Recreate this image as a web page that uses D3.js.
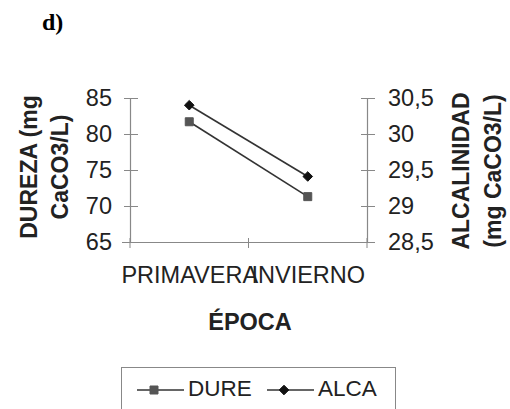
<!DOCTYPE html>
<html>
<head>
<meta charset="utf-8">
<script src="https://cdn.jsdelivr.net/npm/d3@7"></script>
<style>
  body { margin: 0; background: #fff; }
  svg { display: block; }
</style>
</head>
<body>
<div id="chart"></div>
<script>
// data
var epocas = ['PRIMAVERA', 'INVIERNO'];
var dureza = [81.7, 71.3];        // mg CaCO3/L, left axis
var alcalinidad = [30.40, 29.41]; // mg CaCO3/L, right axis
var durezaTicks = [65, 70, 75, 80, 85];
var alcaTicks = [28.5, 29, 29.5, 30, 30.5];

var width = 510, height = 409,
    plot = {left: 130, right: 367, top: 98, bottom: 242},
    font = 'Arial, "Liberation Sans", sans-serif';

var svg = d3.select('#chart').append('svg')
  .attr('width', width)
  .attr('height', height);

var x = d3.scalePoint()
  .domain(epocas)
  .range([plot.left, plot.right])
  .padding(0.5);
var yL = d3.scaleLinear().domain([65, 85]).range([plot.bottom, plot.top]);
var yR = d3.scaleLinear().domain([28.5, 30.5]).range([plot.bottom, plot.top]);

var comma = d => String(d).replace('.', ',');

// panel label
svg.append('text')
  .attr('x', 42).attr('y', 30)
  .attr('font-family', '"Liberation Serif", "Times New Roman", serif')
  .attr('font-weight', 'bold')
  .attr('font-size', '24px')
  .text('d)');

// left axis
var axL = svg.append('g')
  .attr('transform', `translate(${plot.left},0)`)
  .call(d3.axisLeft(yL).tickValues(durezaTicks).tickSize(6).tickSizeOuter(0).tickPadding(12));
// right axis
var axR = svg.append('g')
  .attr('transform', `translate(${plot.right},0)`)
  .call(d3.axisRight(yR).tickValues(alcaTicks).tickSize(8).tickSizeOuter(0).tickPadding(13).tickFormat(comma));
// bottom axis: ticks at category boundaries
var axB = svg.append('g')
  .attr('transform', `translate(0,${plot.bottom})`)
  .call(d3.axisBottom(x).tickSize(0).tickPadding(24));
svg.selectAll('.axis-gap').data([plot.left, (plot.left + plot.right) / 2, plot.right])
  .enter().append('line')
  .attr('x1', d => d).attr('x2', d => d)
  .attr('y1', plot.bottom - 4).attr('y2', plot.bottom + 6)
  .attr('stroke', '#888');

[axL, axR, axB].forEach(function (g) {
  g.select('.domain').attr('stroke', '#888').attr('stroke-width', 1.2);
  g.selectAll('.tick line').attr('stroke', '#888');
  g.selectAll('text')
    .attr('font-family', font)
    .attr('font-size', '23.5px')
    .attr('fill', '#222');
});
axL.selectAll('.tick line').attr('x2', -6).attr('x1', 8);
axR.selectAll('.tick line').attr('x1', -6).attr('x2', 8);
axB.select('.domain').attr('d', `M${plot.left - 8},0.5H${plot.right}`);

// axis titles
function axisTitle(lines, cx, cy, gap) {
  var t = svg.append('text')
    .attr('transform', `translate(${cx},${cy}) rotate(-90)`)
    .attr('text-anchor', 'middle')
    .attr('font-family', font)
    .attr('font-weight', 'bold')
    .attr('font-size', '23px')
    .attr('fill', '#222');
  lines.forEach(function (l, i) {
    t.append('tspan').attr('x', 0).attr('dy', i ? gap : 0).text(l);
  });
}
axisTitle(['DUREZA (mg', 'CaCO3/L)'], 37, 167, 31);
axisTitle(['ALCALINIDAD', '(mg CaCO3/L)'], 469, 171, 32);

svg.append('text')
  .attr('x', 250).attr('y', 330)
  .attr('text-anchor', 'middle')
  .attr('font-family', font)
  .attr('font-weight', 'bold')
  .attr('font-size', '23.5px')
  .attr('fill', '#222')
  .text('ÉPOCA');

// series
var lineColor = '#333';
function drawSeries(values, scale, marker, color) {
  var pts = values.map((v, i) => [x(epocas[i]), scale(v)]);
  svg.append('path')
    .attr('d', d3.line()(pts))
    .attr('fill', 'none')
    .attr('stroke', lineColor)
    .attr('stroke-width', 1.6);
  svg.selectAll(null).data(pts).enter().append('path')
    .attr('transform', d => `translate(${d[0]},${d[1]})`)
    .attr('d', d3.symbol().type(marker).size(marker === d3.symbolSquare ? 64 : 60)())
    .attr('fill', color)
    .attr('stroke', color);
}
var diamond = {
  draw: function (ctx, size) {
    var r = Math.sqrt(size) * 0.62;
    ctx.moveTo(0, -r); ctx.lineTo(r, 0); ctx.lineTo(0, r); ctx.lineTo(-r, 0); ctx.closePath();
  }
};
drawSeries(dureza, yL, d3.symbolSquare, '#555');
drawSeries(alcalinidad, yR, diamond, '#111');

// legend
var legend = svg.append('g');
legend.append('rect')
  .attr('x', 121.5).attr('y', 367.5)
  .attr('width', 274).attr('height', 60)
  .attr('fill', 'none')
  .attr('stroke', '#888');
var items = [
  {name: 'DURE', marker: d3.symbolSquare, color: '#555', x0: 137},
  {name: 'ALCA', marker: diamond, color: '#111', x0: 267}
];
items.forEach(function (it) {
  var g = legend.append('g').attr('transform', `translate(${it.x0},390)`);
  g.append('line').attr('x1', 0).attr('x2', 47)
    .attr('stroke', lineColor).attr('stroke-width', 1.6);
  g.append('path')
    .attr('transform', 'translate(17,0)')
    .attr('d', d3.symbol().type(it.marker).size(it.marker === d3.symbolSquare ? 64 : 60)())
    .attr('fill', it.color).attr('stroke', it.color);
  g.append('text')
    .attr('x', 51).attr('y', 6)
    .attr('font-family', font)
    .attr('font-size', '22.5px')
    .attr('fill', '#222')
    .text(it.name);
});
</script>
</body>
</html>
